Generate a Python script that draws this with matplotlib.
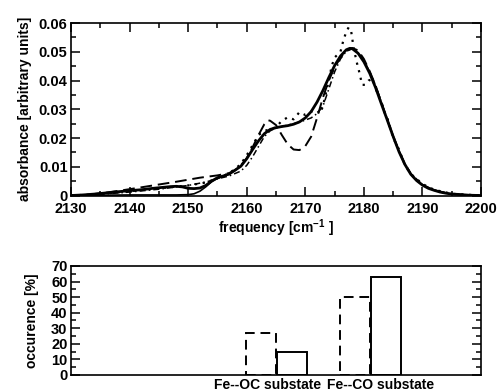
import numpy as np
import matplotlib
matplotlib.use('Agg')
import matplotlib.pyplot as plt
from matplotlib.ticker import MultipleLocator

plt.rcParams['font.family'] = ['Liberation Sans', 'DejaVu Sans']
plt.rcParams['font.weight'] = 'bold'
plt.rcParams['axes.labelweight'] = 'bold'
plt.rcParams['axes.labelsize'] = 10
plt.rcParams['font.size'] = 10.5
plt.rcParams['mathtext.fontset'] = 'custom'
plt.rcParams['mathtext.rm'] = 'Liberation Sans:bold'
plt.rcParams['mathtext.default'] = 'rm'

#%% Spectra
f_solid = [2130, 2132, 2134, 2136, 2138, 2140, 2142, 2144, 2146, 2147, 2148, 2149,
           2150, 2151, 2152, 2153, 2154, 2155, 2156, 2157, 2158, 2159, 2160, 2161,
           2162, 2163, 2164, 2165, 2166, 2167, 2168, 2169, 2170, 2171, 2172, 2173,
           2174, 2175, 2176, 2177, 2177.6, 2178, 2179, 2180, 2181, 2182, 2183, 2184,
           2185, 2186, 2187, 2188, 2189, 2190, 2191, 2192, 2193, 2194, 2195, 2196,
           2198, 2200]
a_solid = [0.0, 0.0002, 0.0005, 0.0009, 0.0013, 0.0017, 0.0020, 0.0025, 0.0029, 0.0031,
           0.0032, 0.0030, 0.0025, 0.0024, 0.0026, 0.0035, 0.0050, 0.0062, 0.0068, 0.0075,
           0.0088, 0.0102, 0.0128, 0.0160, 0.0190, 0.0215, 0.0230, 0.0236, 0.0240, 0.0243,
           0.0248, 0.0256, 0.0270, 0.0292, 0.0325, 0.0365, 0.0410, 0.0452, 0.0485, 0.0507,
           0.0512, 0.0511, 0.0495, 0.0465, 0.0425, 0.0375, 0.0318, 0.0262, 0.0205, 0.0152,
           0.0108, 0.0074, 0.0052, 0.0036, 0.0025, 0.0018, 0.0012, 0.0008, 0.0005, 0.0004,
           0.0001, 0.0]

f_thin = [2130, 2140, 2148, 2150, 2151, 2152, 2153, 2154, 2155, 2156, 2157, 2158]
a_thin = [0.0, 0.0002, 0.0002, 0.0003, 0.0006, 0.0015, 0.0030, 0.0048, 0.0060, 0.0067,
          0.0074, 0.0088]

f_dash = [2130, 2133, 2136, 2140, 2144, 2148, 2152, 2155, 2157, 2158, 2159, 2160, 2161,
          2162, 2163, 2163.6, 2164, 2165, 2166, 2167, 2168, 2169, 2170, 2171, 2172, 2173,
          2174, 2175, 2176, 2177, 2178, 2179, 2180, 2181, 2182, 2183, 2184, 2185, 2186,
          2187, 2188, 2189, 2190, 2192, 2194, 2197, 2200]
a_dash = [0.0, 0.0003, 0.0010, 0.0022, 0.0035, 0.0048, 0.0062, 0.0070, 0.0078, 0.0088,
          0.0105, 0.0130, 0.0168, 0.0210, 0.0248, 0.0262, 0.0260, 0.0245, 0.0210, 0.0178,
          0.0160, 0.0158, 0.0172, 0.0205, 0.0270, 0.0340, 0.0400, 0.0445, 0.0480, 0.0503,
          0.0513, 0.0505, 0.0475, 0.0432, 0.0382, 0.0322, 0.0264, 0.0206, 0.0154, 0.0110,
          0.0076, 0.0053, 0.0037, 0.0019, 0.0008, 0.0002, 0.0]

f_dot = [2130, 2135, 2140, 2145, 2150, 2153, 2155, 2156, 2157, 2158, 2159, 2160, 2161,
         2162, 2163, 2164, 2165, 2166, 2167, 2168, 2169, 2170, 2171, 2172, 2172.5, 2173,
         2174, 2174.5, 2175, 2175.5, 2176, 2176.5, 2177, 2177.4, 2177.8, 2178.2, 2178.7,
         2179.2, 2179.7, 2180.2, 2180.8, 2181.5, 2182, 2183, 2183.5, 2184, 2185, 2186,
         2187, 2188, 2189, 2190, 2192, 2195, 2200]
a_dot = [0.0, 0.0005, 0.0015, 0.0025, 0.0035, 0.0045, 0.0060, 0.0068, 0.0078, 0.0092,
         0.0110, 0.0140, 0.0175, 0.0210, 0.0225, 0.0230, 0.0238, 0.0260, 0.0272, 0.0265,
         0.0290, 0.0280, 0.0292, 0.0296, 0.0285, 0.0310, 0.0400, 0.0450, 0.0480, 0.0490,
         0.0500, 0.0540, 0.0570, 0.0585, 0.0575, 0.0520, 0.0470, 0.0430, 0.0385, 0.0385,
         0.0400, 0.0405, 0.0372, 0.0325, 0.0290, 0.0270, 0.0200, 0.0160, 0.0105, 0.0075,
         0.0058, 0.0040, 0.0020, 0.0006, 0.0]

f_dashdot = [2130, 2135, 2140, 2145, 2150, 2153, 2155, 2157, 2159, 2160, 2161, 2162, 2163,
             2164, 2165, 2167, 2169, 2171, 2172, 2173, 2174, 2175, 2176, 2177, 2178, 2179,
             2180, 2181, 2182, 2183, 2184, 2185, 2186, 2187, 2188, 2190, 2192, 2195, 2200]
a_dashdot = [0.0, 0.0004, 0.0012, 0.0022, 0.0035, 0.0047, 0.0058, 0.0068, 0.0085, 0.0105,
             0.0135, 0.0170, 0.0205, 0.0225, 0.0235, 0.0245, 0.0255, 0.0270, 0.0285, 0.0310,
             0.0370, 0.0430, 0.0475, 0.0502, 0.0510, 0.0498, 0.0470, 0.0430, 0.0383, 0.0323,
             0.0265, 0.0208, 0.0155, 0.0110, 0.0076, 0.0038, 0.0019, 0.0005, 0.0]

#%% Substate occurrence
substates = ['Fe--OC substate', 'Fe--CO substate']
occ_dashed = [27, 50]
occ_solid = [15, 63]

xticks_top = [2130, 2140, 2150, 2160, 2170, 2180, 2190, 2200]
yticks_top = [0, 0.01, 0.02, 0.03, 0.04, 0.05, 0.06]
yticklabels_top = ['0', '0.01', '0.02', '0.03', '0.04', '0.05', '0.06']
yticks_bot = [0, 10, 20, 30, 40, 50, 60, 70]

fig = plt.figure(figsize=(4.97, 3.89), dpi=100)
ax1 = fig.add_axes([0.1429, 0.4974, 0.825, 0.4434])
ax2 = fig.add_axes([0.1429, 0.036, 0.825, 0.2802])

# Top: absorbance spectra
ax1.plot(f_dash, a_dash, 'k', lw=1.4, ls=(0, (6, 3)))
ax1.plot(f_dashdot, a_dashdot, 'k', lw=1.1, ls=(0, (4, 2, 1, 2)))
ax1.plot(f_dot, a_dot, 'k', lw=1.6, ls=(0, (1, 2.5)))
ax1.plot(f_thin, a_thin, 'k', lw=1.2)
ax1.plot(f_solid, a_solid, 'k', lw=2.0)

ax1.set_xlim(2130, 2200)
ax1.set_ylim(0, 0.06)
ax1.set_xticks(xticks_top)
ax1.set_yticks(yticks_top)
ax1.set_yticklabels(yticklabels_top)
ax1.xaxis.set_minor_locator(MultipleLocator(5))
ax1.yaxis.set_minor_locator(MultipleLocator(0.005))
ax1.set_xlabel(r'frequency [cm$^{-1}$ ]', labelpad=1)
ax1.set_ylabel('absorbance [arbitrary units]', labelpad=5)

# Bottom: bars
pos = np.arange(1, len(substates) + 1)
w = 0.31
ax2.bar(pos - 0.165, occ_dashed, width=w, fill=False, edgecolor='k', lw=1.4,
        ls=(0, (5, 3)))
ax2.bar(pos + 0.165, occ_solid, width=w, fill=False, edgecolor='k', lw=1.4)
ax2.set_xlim(-1.186, 3.176)
ax2.set_ylim(0, 70)
ax2.set_yticks(yticks_bot)
ax2.yaxis.set_minor_locator(MultipleLocator(5))
ax2.set_xticks(pos + np.array([-0.1, 0.11]))
ax2.set_xticklabels(substates, fontsize=10)
ax2.tick_params(axis='x', length=0, pad=2.5)
ax2.set_ylabel('occurence [%]', labelpad=9)

for ax in (ax1, ax2):
    for s in ax.spines.values():
        s.set_linewidth(1.2)
    ax.tick_params(which='both', direction='in', right=True, width=1.1)
    ax.tick_params(axis='y', which='major', length=6.5, pad=2.5)
    ax.tick_params(axis='y', which='minor', length=3.5)
ax1.tick_params(which='both', top=True)
ax1.tick_params(axis='x', which='major', length=6.5, pad=4.5)
ax1.tick_params(axis='x', which='minor', length=3.5)

fig.savefig('out.png', dpi=100)
